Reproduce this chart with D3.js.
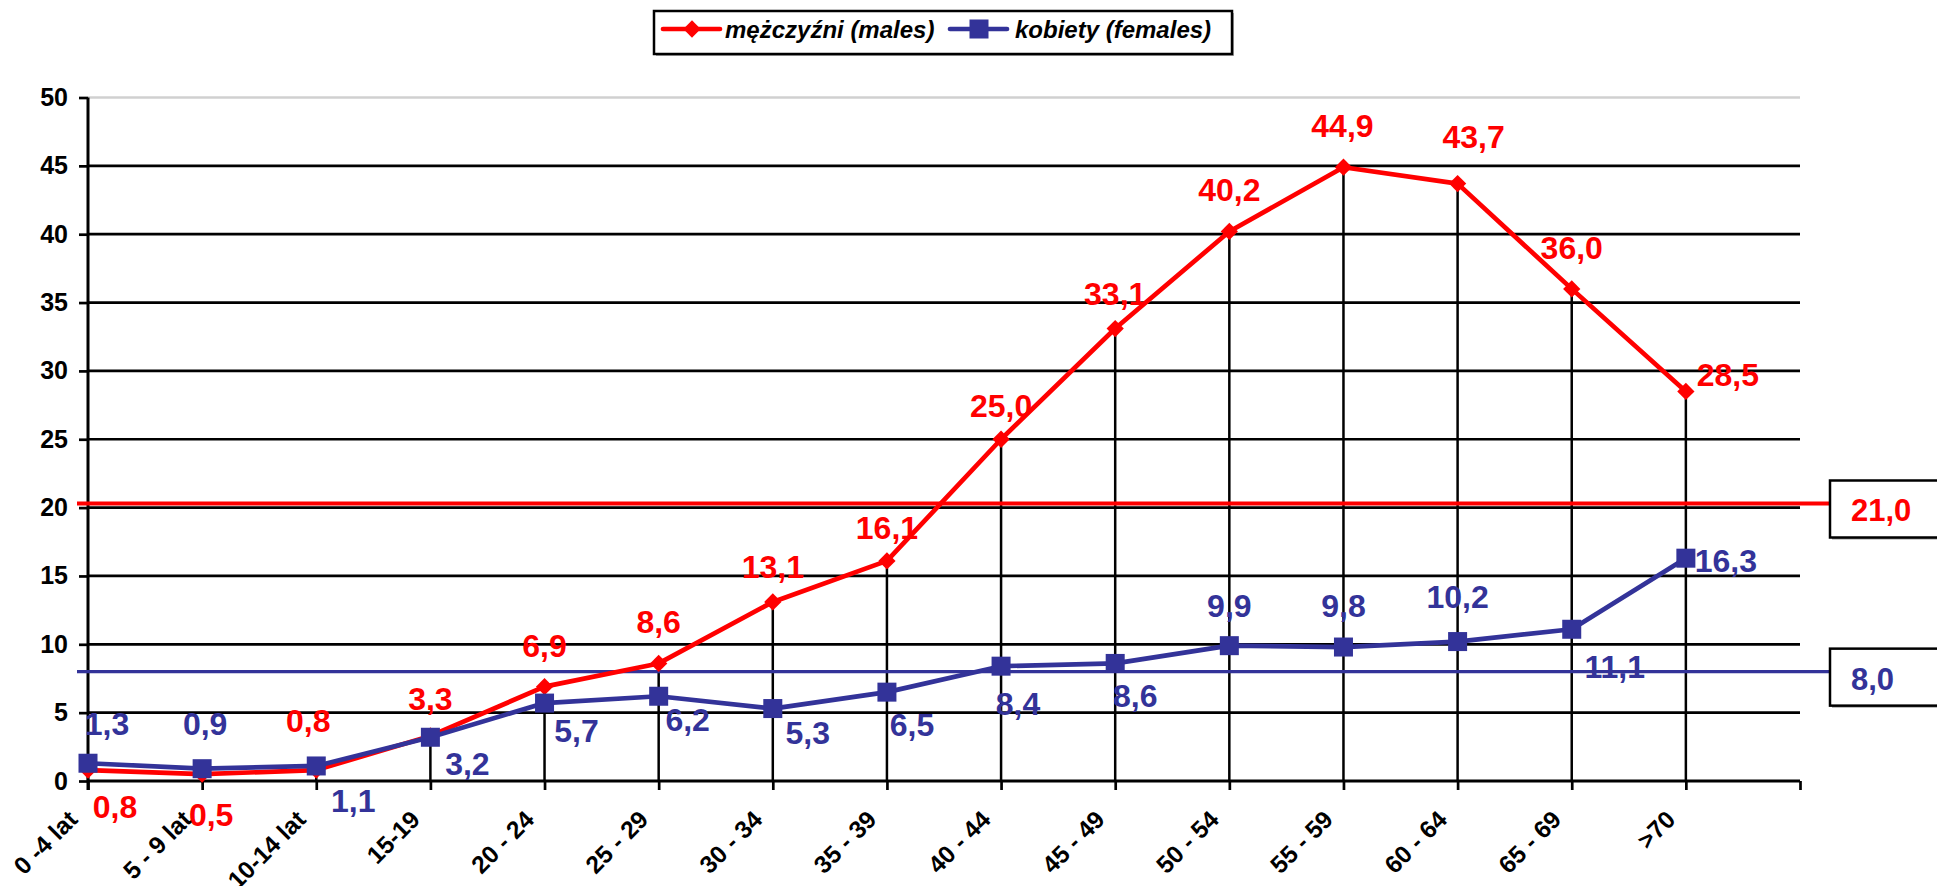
<html>
<head>
<meta charset="utf-8">
<script src="https://d3js.org/d3.v7.min.js"></script>
<style>
body { margin: 0; background: #fff; }
svg { display: block; font-family: "Liberation Sans", Arial, sans-serif; }
</style>
</head>
<body>
<svg id="chart" width="1937" height="886"></svg>
<script>
// age groups
var categories = ["0 -4 lat", "5 - 9 lat", "10-14 lat", "15-19", "20 - 24", "25 - 29", "30 - 34",
  "35 - 39", "40 - 44", "45 - 49", "50 - 54", "55 - 59", "60 - 64", "65 - 69", ">70"];
var males = [0.8, 0.5, 0.8, 3.3, 6.9, 8.6, 13.1, 16.1, 25.0, 33.1, 40.2, 44.9, 43.7, 36.0, 28.5];
var females = [1.3, 0.9, 1.1, 3.2, 5.7, 6.2, 5.3, 6.5, 8.4, 8.6, 9.9, 9.8, 10.2, 11.1, 16.3];
var yTicks = [0, 5, 10, 15, 20, 25, 30, 35, 40, 45, 50];
var seriesNames = ["mężczyźni (males)", "kobiety (females)"];
// average lines: printed value and level where the line sits in the picture
var avgLabels = ["21,0", "8,0"];
var avgLevels = [20.3, 8.0];

// label placement (pixel offsets from the point, centre / baseline)
var maleLabelOff = [[27,48],[9,52],[-8,-38],[0,-26],[0,-30],[0,-30],[0,-24],[0,-22],[0,-22],[0,-24],[0,-30],[-1,-30],[16,-36],[0,-30],[42,-5]];
var femaleLabelOff = [[19,-28],[3,-34],[37,46],[37,38],[32,39],[29,35],[35,35],[25,44],[17,49],[20,44],[0,-29],[0,-30],[0,-34],[43,49],[40,14]];

var red = "#ff0000", blue = "#333399";
var svg = d3.select("#chart");

var x = d3.scaleLinear().domain([0, 15]).range([88, 1800]);
var y = d3.scaleLinear().domain([0, 50]).range([781, 97.5]);
var fmt = function (v) { return d3.format(".1f")(v).replace(".", ","); };

// gridlines
svg.append("g").selectAll("line").data(yTicks.filter(function (d) { return d > 0; })).enter().append("line")
  .attr("x1", x(0)).attr("x2", x(15))
  .attr("y1", function (d) { return y(d); }).attr("y2", function (d) { return y(d); })
  .attr("stroke", function (d) { return d === 50 ? "#d0d0d0" : "#000"; })
  .attr("stroke-width", 2.7);

// drop lines
svg.append("g").selectAll("line").data(categories).enter().append("line")
  .attr("x1", function (d, i) { return x(i); }).attr("x2", function (d, i) { return x(i); })
  .attr("y1", function (d, i) { return y(Math.max(males[i], females[i])); }).attr("y2", y(0))
  .attr("stroke", "#000").attr("stroke-width", 2.5);

// y axis
var yAxis = d3.axisLeft(y).tickValues(yTicks).tickSize(9).tickPadding(11);
var gy = svg.append("g").attr("transform", "translate(" + x(0) + ",0)").call(yAxis);
gy.select(".domain").remove();
gy.append("line").attr("x1", 0).attr("x2", 0).attr("y1", y(50)).attr("y2", y(0) + 9)
  .attr("stroke", "#000").attr("stroke-width", 3);
gy.selectAll(".tick line").attr("stroke", "#000").attr("stroke-width", 2.7);
gy.selectAll(".tick text").attr("font-size", 25).attr("font-weight", "bold").attr("fill", "#000")
  .attr("font-family", "Liberation Sans, Arial, sans-serif");

// x axis
var xAxis = d3.axisBottom(x).tickValues(d3.range(16)).tickSize(9).tickFormat("");
var gx = svg.append("g").attr("transform", "translate(0," + y(0) + ")").call(xAxis);
gx.select(".domain").remove();
gx.append("line").attr("x1", x(0)).attr("x2", x(15)).attr("stroke", "#000").attr("stroke-width", 3);
gx.selectAll(".tick line").attr("stroke", "#000").attr("stroke-width", 2.7);
svg.append("g").selectAll("text").data(categories).enter().append("text")
  .attr("transform", function (d, i) { return "translate(" + (x(i) - 9) + "," + (y(0) + 40) + ") rotate(-45)"; })
  .attr("text-anchor", "end")
  .attr("font-size", 24.5).attr("font-weight", "bold").attr("fill", "#000")
  .text(function (d) { return d; });

// average lines + boxes
avgLevels.forEach(function (lv, k) {
  var col = k === 0 ? red : blue;
  svg.append("line").attr("x1", 77).attr("x2", 1830).attr("y1", y(lv)).attr("y2", y(lv))
    .attr("stroke", col).attr("stroke-width", k === 0 ? 4 : 3.3);
  var top = y(lv) - 23, h = 57;
  svg.append("rect").attr("x", 1832).attr("y", top + 2).attr("width", 120).attr("height", h)
    .attr("fill", "#999");
  svg.append("rect").attr("x", 1830).attr("y", top).attr("width", 120).attr("height", h)
    .attr("fill", "#fff").attr("stroke", "#000").attr("stroke-width", 2.5);
  svg.append("text").attr("x", 1851).attr("y", top + 41)
    .attr("font-size", 31).attr("font-weight", "bold").attr("fill", col)
    .text(avgLabels[k]);
});

// series lines
var line = d3.line().x(function (d, i) { return x(i); }).y(function (d) { return y(d); });
svg.append("path").datum(males).attr("d", line).attr("fill", "none")
  .attr("stroke", red).attr("stroke-width", 4.7).attr("stroke-linejoin", "round");
svg.append("g").selectAll("path").data(males).enter().append("path")
  .attr("d", d3.symbol().type(d3.symbolDiamond2).size(190))
  .attr("transform", function (d, i) { return "translate(" + x(i) + "," + y(d) + ")"; })
  .attr("fill", red);

svg.append("path").datum(females).attr("d", line).attr("fill", "none")
  .attr("stroke", blue).attr("stroke-width", 4.7).attr("stroke-linejoin", "round");
svg.append("g").selectAll("rect").data(females).enter().append("rect")
  .attr("x", function (d, i) { return x(i) - 9.5; }).attr("y", function (d) { return y(d) - 9.5; })
  .attr("width", 19).attr("height", 19).attr("fill", blue);

// data labels
svg.append("g").selectAll("text").data(males).enter().append("text")
  .attr("x", function (d, i) { return x(i) + maleLabelOff[i][0]; })
  .attr("y", function (d, i) { return y(d) + maleLabelOff[i][1]; })
  .attr("text-anchor", "middle").attr("font-size", 32).attr("font-weight", "bold").attr("fill", red)
  .text(fmt);
svg.append("g").selectAll("text").data(females).enter().append("text")
  .attr("x", function (d, i) { return x(i) + femaleLabelOff[i][0]; })
  .attr("y", function (d, i) { return y(d) + femaleLabelOff[i][1]; })
  .attr("text-anchor", "middle").attr("font-size", 32).attr("font-weight", "bold").attr("fill", blue)
  .text(fmt);

// legend
var lg = svg.append("g");
lg.append("rect").attr("x", 656).attr("y", 13).attr("width", 578).attr("height", 43).attr("fill", "#aaa");
lg.append("rect").attr("x", 654).attr("y", 11).attr("width", 578).attr("height", 43)
  .attr("fill", "#fff").attr("stroke", "#000").attr("stroke-width", 2.5);
var lgX = [663, 950], lgT = [725, 1015];
seriesNames.forEach(function (name, k) {
  var col = k === 0 ? red : blue;
  lg.append("line").attr("x1", lgX[k]).attr("x2", lgX[k] + 57).attr("y1", 29).attr("y2", 29)
    .attr("stroke", col).attr("stroke-width", 4.7).attr("stroke-linecap", "round");
  if (k === 0) {
    lg.append("path").attr("d", d3.symbol().type(d3.symbolDiamond2).size(190))
      .attr("transform", "translate(" + (lgX[k] + 29) + ",29)").attr("fill", col);
  } else {
    lg.append("rect").attr("x", lgX[k] + 29 - 9.5).attr("y", 19.5).attr("width", 19).attr("height", 19).attr("fill", col);
  }
  lg.append("text").attr("x", lgT[k]).attr("y", 38).attr("font-size", 24)
    .attr("font-weight", "bold").attr("font-style", "italic").attr("fill", "#000").text(name);
});
</script>
</body>
</html>
